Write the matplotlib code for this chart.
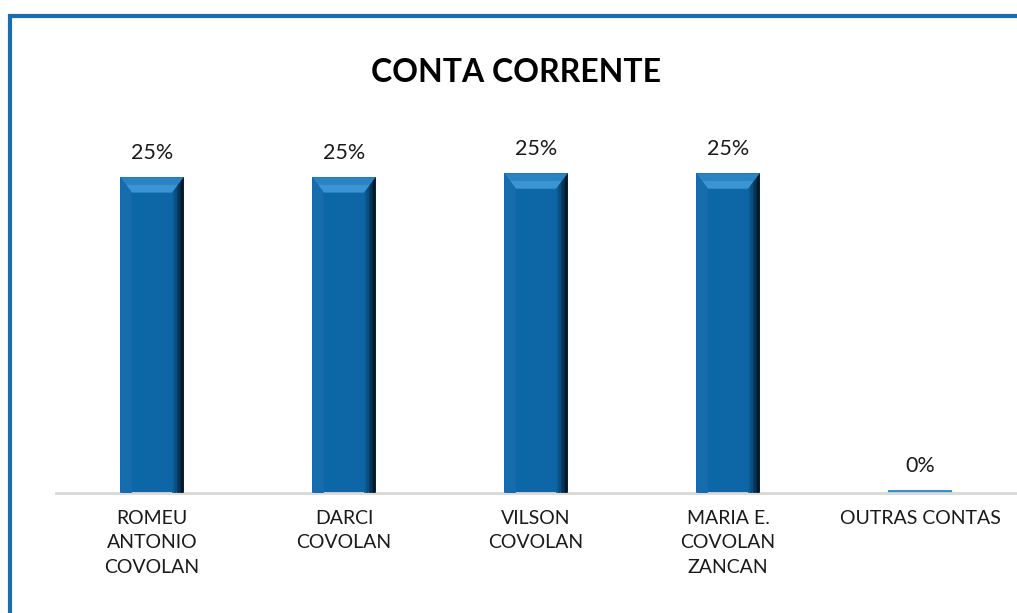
import matplotlib.pyplot as plt
import numpy as np
from matplotlib.patches import Polygon, Rectangle
from matplotlib.colors import to_rgb

# data
categories = ['ROMEU\nANTONIO\nCOVOLAN', 'DARCI\nCOVOLAN', 'VILSON\nCOVOLAN',
              'MARIA E.\nCOVOLAN\nZANCAN', 'OUTRAS CONTAS']
values = [24.8, 24.8, 25.1, 25.1, 0.2]
value_labels = ['25%', '25%', '25%', '25%', '0%']

plt.rcParams['font.family'] = ['Lato', 'DejaVu Sans']

fig = plt.figure(figsize=(10.17, 6.13), dpi=100)
ax = fig.add_axes([56/1017, 1 - 493/613, 960/1017, 382/613])

bar_color = '#0d66a6'
bars = ax.bar(range(len(values)), values, width=0.33, color=bar_color, zorder=2)

# fake bevel: lighter top, dark gradient on the right side
bx = 0.06    # horizontal bevel in data units
by = 1.2     # vertical bevel in data units
base = np.array(to_rgb(bar_color))
for b in bars:
    x0, w, h = b.get_x(), b.get_width(), b.get_height()
    if h < 3 * by:
        ax.add_patch(Rectangle((x0, h * 0.5), w, h * 0.5, color='#3a8fcc', zorder=3, lw=0))
        continue
    # top bevel
    ax.add_patch(Polygon([(x0, h), (x0 + w, h), (x0 + w - bx, h - by), (x0 + bx, h - by)],
                         closed=True, color='#2a84c4', lw=0, zorder=3))
    ax.add_patch(Polygon([(x0 + bx * 0.5, h - by * 0.5), (x0 + w - bx * 0.5, h - by * 0.5),
                          (x0 + w - bx, h - by), (x0 + bx, h - by)],
                         closed=True, color='#4aa0dc', lw=0, zorder=3, alpha=0.6))
    # left bevel
    ax.add_patch(Polygon([(x0, h), (x0 + bx, h - by), (x0 + bx, 0), (x0, 0)],
                         closed=True, color='#166cad', lw=0, zorder=3))
    # right bevel gradient
    n = 8
    for i in range(n):
        xa = x0 + w - bx + bx * i / n
        xb = x0 + w - bx + bx * (i + 1) / n
        ya = h - by + by * i / n
        yb = h - by + by * (i + 1) / n
        c = base * (1 - 0.92 * ((i + 1) / n) ** 1.3)
        ax.add_patch(Polygon([(xa, ya), (xb, yb), (xb, 0), (xa, 0)],
                             closed=True, color=c, lw=0, zorder=3))

for b, lab in zip(bars, value_labels):
    ax.text(b.get_x() + b.get_width() / 2, b.get_height() + 1.1, lab,
            ha='center', va='bottom', fontsize=15.5, color='#1a1a1a')

ax.set_xlim(-0.5, len(values) - 0.5)
ax.set_ylim(0, 30)
ax.set_xticks(range(len(values)))
ax.set_xticklabels(categories, fontsize=14, color='#1a1a1a', linespacing=1.55)
ax.tick_params(axis='x', length=0, pad=12)
ax.set_yticks([])
for s in ['top', 'right', 'left']:
    ax.spines[s].set_visible(False)
ax.spines['bottom'].set_color('#d9d9d9')
ax.spines['bottom'].set_linewidth(2)

fig.text(0.507, 1 - 73/613, 'CONTA CORRENTE', ha='center', va='center',
         fontsize=23, fontweight='bold', color='black')

# outer chart border (cut off at right and bottom)
fig.patches.append(Rectangle((10/1017, -0.05), 1.1, 1 - 16/613 + 0.05,
                             transform=fig.transFigure, fill=False,
                             edgecolor='#1a6eaf', linewidth=3))

fig.savefig('out.png', dpi=100)
